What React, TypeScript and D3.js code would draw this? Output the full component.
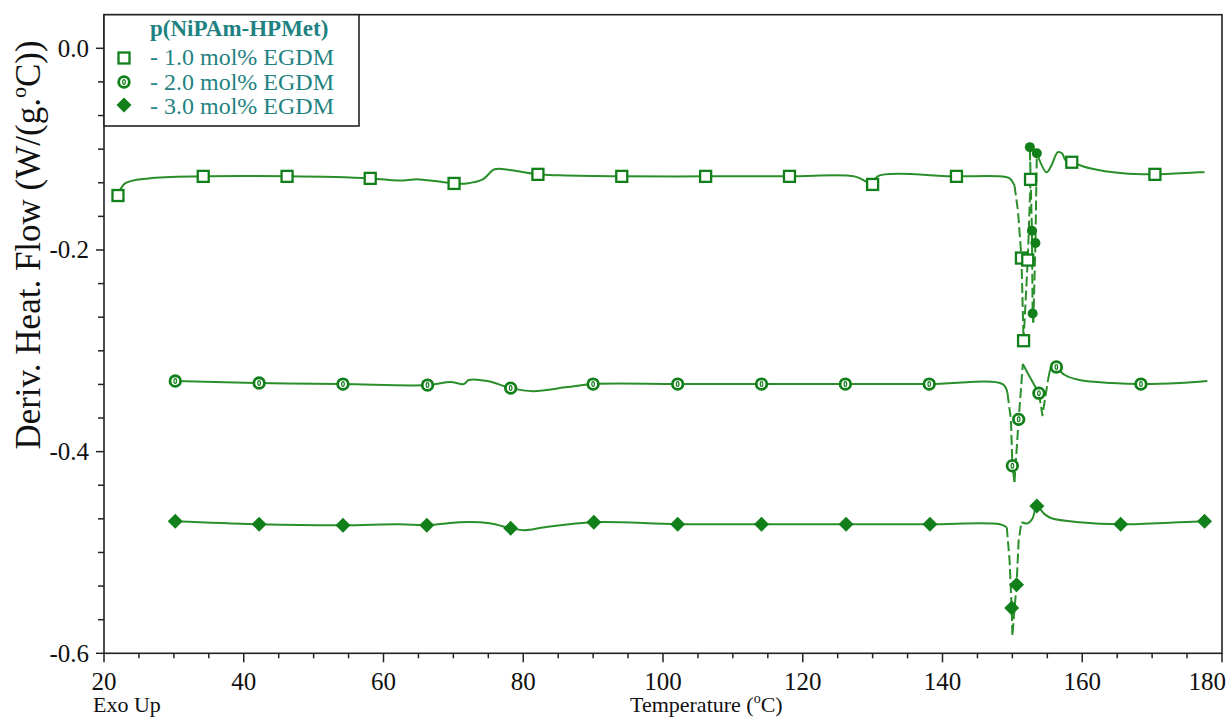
import React from "react";
import * as d3 from "d3";

// ---------- data ----------
const xMajorTicks = [20, 40, 60, 80, 100, 120, 140, 160, 180];
const yMajorTicks = [0.0, -0.2, -0.4, -0.6];
const yTickLabels = ["0.0", "-0.2", "-0.4", "-0.6"];

const legendTitle = "p(NiPAm-HPMet)";
const seriesNames = ["- 1.0 mol% EGDM", "- 2.0 mol% EGDM", "- 3.0 mol% EGDM"];

// 1.0 mol% EGDM (squares)
const s1Temp = [22.0, 23.0, 26.4, 34.2, 46.2, 58.1, 62.2, 65.1, 70.1, 71.9, 74.2, 75.9, 78.3, 82.1, 85.2, 94.1, 106.1, 118.1, 127.4, 129.3, 130.0, 130.7, 142.0, 148.2, 149.6, 150.3, 150.8, 151.3, 151.6, 152.2, 152.6, 152.5, 152.8, 152.9, 153.0, 153.3, 153.5, 154.9, 155.6, 156.5, 157.1, 157.6, 158.5, 161.1, 165.8, 170.4, 176.8, 177.5];
const s1Val = [-0.146, -0.134, -0.129, -0.127, -0.127, -0.129, -0.131, -0.130, -0.134, -0.134, -0.130, -0.120, -0.121, -0.125, -0.126, -0.127, -0.127, -0.127, -0.127, -0.133, -0.135, -0.127, -0.127, -0.127, -0.129, -0.136, -0.161, -0.208, -0.290, -0.210, -0.130, -0.098, -0.181, -0.263, -0.272, -0.193, -0.104, -0.123, -0.116, -0.103, -0.104, -0.111, -0.113, -0.119, -0.124, -0.125, -0.123, -0.123];
const s1MarkTemp = [22.0, 34.2, 46.2, 58.1, 70.1, 82.1, 94.1, 106.1, 118.1, 130.0, 142.0, 151.3, 151.6, 152.2, 152.6, 158.5, 170.4];
const s1MarkVal = [-0.146, -0.127, -0.127, -0.129, -0.134, -0.125, -0.127, -0.127, -0.127, -0.135, -0.127, -0.208, -0.290, -0.210, -0.130, -0.113, -0.125];
const s1DotTemp = [152.5, 152.8, 152.9, 153.3, 153.5];
const s1DotVal = [-0.098, -0.181, -0.263, -0.193, -0.104];

// 2.0 mol% EGDM (circles)
const s2Temp = [30.2, 42.2, 54.2, 66.3, 69.6, 71.5, 72.2, 74.9, 78.2, 81.4, 86.3, 90.0, 102.1, 114.1, 126.1, 138.1, 148.6, 149.3, 149.8, 150.0, 150.3, 150.6, 150.9, 151.5, 152.5, 153.8, 154.3, 155.1, 155.8, 156.3, 157.5, 159.6, 164.3, 168.4, 173.9, 177.9];
const s2Val = [-0.330, -0.332, -0.333, -0.334, -0.331, -0.333, -0.329, -0.330, -0.337, -0.340, -0.336, -0.333, -0.333, -0.333, -0.333, -0.333, -0.333, -0.342, -0.369, -0.414, -0.430, -0.399, -0.368, -0.313, -0.326, -0.342, -0.364, -0.329, -0.312, -0.316, -0.324, -0.329, -0.332, -0.333, -0.332, -0.330];
const s2MarkTemp = [30.2, 42.2, 54.2, 66.3, 78.2, 90.0, 102.1, 114.1, 126.1, 138.1, 150.0, 150.9, 153.8, 156.3, 168.4];
const s2MarkVal = [-0.330, -0.332, -0.333, -0.334, -0.337, -0.333, -0.333, -0.333, -0.333, -0.333, -0.414, -0.368, -0.342, -0.316, -0.333];

// 3.0 mol% EGDM (diamonds)
const s3Temp = [30.2, 42.2, 54.2, 62.3, 66.2, 70.9, 75.2, 78.2, 80.2, 83.1, 90.1, 102.1, 114.1, 126.2, 138.2, 148.2, 149.2, 149.6, 149.9, 150.0, 150.3, 150.6, 150.9, 151.3, 152.2, 152.9, 153.5, 154.6, 155.6, 159.6, 165.5, 173.9, 177.5];
const s3Val = [-0.469, -0.472, -0.473, -0.472, -0.473, -0.470, -0.471, -0.476, -0.478, -0.475, -0.470, -0.472, -0.472, -0.472, -0.472, -0.472, -0.475, -0.508, -0.555, -0.583, -0.557, -0.532, -0.488, -0.470, -0.471, -0.466, -0.454, -0.462, -0.466, -0.470, -0.472, -0.470, -0.469];
const s3MarkTemp = [30.2, 42.2, 54.2, 66.2, 78.2, 90.1, 102.1, 114.1, 126.2, 138.2, 149.9, 150.6, 153.5, 165.5, 177.5];
const s3MarkVal = [-0.469, -0.472, -0.473, -0.473, -0.476, -0.470, -0.472, -0.472, -0.472, -0.472, -0.555, -0.532, -0.454, -0.472, -0.469];

// ---------- layout ----------
const W = 1229;
const H = 718;
const left = 104;
const right = 1222;
const top = 14.7;
const bottom = 653.3;
const LINE = "#2a8f2a";
const MARK = "#12801a";
const TEAL = "#1f8282";
const SERIF = '"Liberation Serif", "Times New Roman", Times, serif';

const x = d3.scaleLinear().domain([20, 180]).range([left, right]);
const y = d3.scaleLinear().domain([1 / 30, -0.6]).range([top, bottom]);

type Pt = [number, number];

function segmentRuns(pts: Pt[]) {
  const runs: { steep: boolean; pts: Pt[] }[] = [];
  for (let i = 0; i < pts.length - 1; i++) {
    const a = pts[i];
    const b = pts[i + 1];
    const dx = b[0] - a[0];
    const dy = b[1] - a[1];
    const steep = Math.abs(dy) > 18 && Math.abs(dy) > 4 * Math.abs(dx);
    const last = runs[runs.length - 1];
    if (last && last.steep === steep) last.pts.push(b);
    else runs.push({ steep, pts: [a, b] });
  }
  return runs;
}

const smoothLine = d3.line<Pt>().x((d) => d[0]).y((d) => d[1]).curve(d3.curveCatmullRom.alpha(0.5));
const straightLine = d3.line<Pt>().x((d) => d[0]).y((d) => d[1]);

function Series({ temps, vals }: { temps: number[]; vals: number[] }) {
  const pts: Pt[] = temps.map((t, i) => [x(t), y(vals[i])]);
  const runs = segmentRuns(pts);
  return (
    <g>
      {runs.map((r, i) => (
        <path
          key={i}
          d={(r.steep ? straightLine(r.pts) : smoothLine(r.pts)) || ""}
          fill="none"
          stroke={LINE}
          strokeWidth={2}
          strokeDasharray={r.steep ? "10,4" : undefined}
          strokeLinejoin="round"
        />
      ))}
    </g>
  );
}

function Square({ cx, cy }: { cx: number; cy: number }) {
  return <rect x={cx - 5.5} y={cy - 5.5} width={11} height={11} fill="white" stroke={MARK} strokeWidth={2.3} />;
}
function Ring({ cx, cy }: { cx: number; cy: number }) {
  return (
    <g>
      <circle cx={cx} cy={cy} r={5.3} fill="white" stroke={MARK} strokeWidth={2.8} />
      <ellipse cx={cx} cy={cy} rx={1.3} ry={2.4} fill="none" stroke={MARK} strokeWidth={1.2} />
    </g>
  );
}
function Diamond({ cx, cy }: { cx: number; cy: number }) {
  const s = 7.5;
  return <path d={`M${cx},${cy - s}L${cx + s},${cy}L${cx},${cy + s}L${cx - s},${cy}Z`} fill={MARK} />;
}
function Dot({ cx, cy }: { cx: number; cy: number }) {
  return <circle cx={cx} cy={cy} r={5} fill={MARK} />;
}

const txt = { fontFamily: SERIF };

export default function App() {
  const xMinor = d3.range(20, 180.01, 5);
  const yMinor = d3.range(0, 31).map((i) => -i / 30).filter((v) => v >= -0.6001);

  return (
    <svg width={W} height={H} style={{ position: "absolute", left: 0, top: 0, background: "white", fontFamily: SERIF }}>
      <rect x={0} y={0} width={W} height={H} fill="white" />

      {/* frame */}
      <rect x={left} y={top} width={right - left} height={bottom - top} fill="none" stroke="#222" strokeWidth={1.6} />

      {/* x ticks */}
      {xMinor.map((t) => (
        <line key={"xm" + t} x1={x(t)} x2={x(t)} y1={bottom} y2={bottom + (t % 20 === 0 ? 9 : 5)} stroke="#222" strokeWidth={1.5} />
      ))}
      {xMajorTicks.map((t, i) => {
        const last = i === xMajorTicks.length - 1;
        return (
          <text key={"xl" + t} x={last ? 1226 : x(t)} y={690} fontSize={25} textAnchor={last ? "end" : "middle"} fill="#111" style={txt}>
            {t}
          </text>
        );
      })}

      {/* y ticks */}
      {yMinor.map((v, i) => (
        <line key={"ym" + i} x1={left} x2={left - (i % 6 === 0 ? 8 : 6)} y1={y(v)} y2={y(v)} stroke="#222" strokeWidth={1.5} />
      ))}
      {yMajorTicks.map((v, i) => (
        <text key={"yl" + i} x={89} y={y(v)} dy="0.34em" fontSize={25} textAnchor="end" fill="#111" style={txt}>
          {yTickLabels[i]}
        </text>
      ))}

      {/* axis titles */}
      <text x={93} y={712} fontSize={22} fill="#111" style={txt}>Exo Up</text>
      <text x={630} y={712} fontSize={22} fill="#111" style={txt}>
        Temperature (<tspan fontSize={14} dy={-9}>o</tspan>
        <tspan dy={9}>C)</tspan>
      </text>
      <text transform="translate(40,245) rotate(-90)" textAnchor="middle" fontSize={35} fill="#111" style={txt}>
        Deriv. Heat. Flow (W/(g.<tspan fontSize={22} dy={-14}>o</tspan>
        <tspan dy={14}>C))</tspan>
      </text>

      {/* series */}
      <Series temps={s1Temp} vals={s1Val} />
      <Series temps={s2Temp} vals={s2Val} />
      <Series temps={s3Temp} vals={s3Val} />

      {s1MarkTemp.map((t, i) => (
        <Square key={"m1" + i} cx={x(t)} cy={y(s1MarkVal[i])} />
      ))}
      {s1DotTemp.map((t, i) => (
        <Dot key={"d1" + i} cx={x(t)} cy={y(s1DotVal[i])} />
      ))}
      {s2MarkTemp.map((t, i) => (
        <Ring key={"m2" + i} cx={x(t)} cy={y(s2MarkVal[i])} />
      ))}
      {s3MarkTemp.map((t, i) => (
        <Diamond key={"m3" + i} cx={x(t)} cy={y(s3MarkVal[i])} />
      ))}

      {/* legend */}
      <rect x={left} y={top} width={359 - left} height={126 - top} fill="white" stroke="#222" strokeWidth={1.6} />
      <text x={150} y={36} fontSize={23} fontWeight="bold" fill={TEAL} style={txt}>{legendTitle}</text>
      {seriesNames.map((n, i) => (
        <text key={"ln" + i} x={150} y={65 + i * 24.5} fontSize={24} fill={TEAL} style={txt}>{n}</text>
      ))}
      <Square cx={124} cy={58} />
      <Ring cx={124} cy={82} />
      <Diamond cx={124} cy={105} />
    </svg>
  );
}
